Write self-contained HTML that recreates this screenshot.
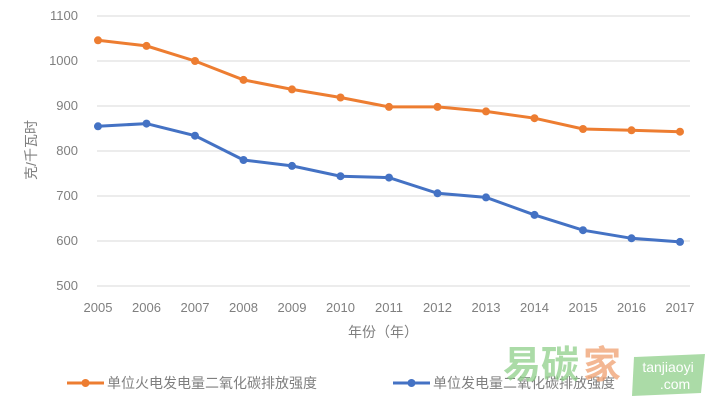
<!DOCTYPE html>
<html><head><meta charset="utf-8"><style>
body{margin:0;background:#fff;width:709px;height:403px;overflow:hidden}
svg{display:block;font-family:"Liberation Sans","Noto Sans CJK SC",sans-serif}
</style></head><body>
<svg width="709" height="403" viewBox="0 0 709 403">
<g stroke="#d9d9d9" stroke-width="1">
<line x1="97" x2="690" y1="16" y2="16"/><line x1="97" x2="690" y1="61" y2="61"/>
<line x1="97" x2="690" y1="106" y2="106"/><line x1="97" x2="690" y1="151" y2="151"/>
<line x1="97" x2="690" y1="196" y2="196"/><line x1="97" x2="690" y1="241" y2="241"/>
<line x1="97" x2="690" y1="286" y2="286"/></g>
<g fill="#7f7f7f" font-size="13" text-anchor="end">
<text x="78" y="20">1100</text><text x="78" y="65">1000</text><text x="78" y="110">900</text>
<text x="78" y="155">800</text><text x="78" y="200">700</text><text x="78" y="245">600</text><text x="78" y="290">500</text></g>
<text transform="translate(36,150) rotate(-90)" fill="#7f7f7f" font-size="14" text-anchor="middle">克/千瓦时</text>
<g fill="#7f7f7f" font-size="13" text-anchor="middle">
<text x="98" y="312">2005</text><text x="146.5" y="312">2006</text><text x="195" y="312">2007</text><text x="243.5" y="312">2008</text><text x="292" y="312">2009</text><text x="340.5" y="312">2010</text><text x="389" y="312">2011</text><text x="437.5" y="312">2012</text><text x="486" y="312">2013</text><text x="534.5" y="312">2014</text><text x="583" y="312">2015</text><text x="631.5" y="312">2016</text><text x="680" y="312">2017</text></g>
<text x="383" y="337" fill="#7f7f7f" font-size="14" text-anchor="middle">年份（年）</text>
<polyline fill="none" stroke="#ed7d31" stroke-width="3" points="98,40.3 146.5,45.9 195,61 243.5,79.9 292,89.4 340.5,97.5 389,106.9 437.5,106.9 486,111.4 534.5,118.2 583,129 631.5,130.3 680,131.7"/>
<g fill="#ed7d31"><circle cx="98" cy="40.3" r="4"/><circle cx="146.5" cy="45.9" r="4"/><circle cx="195" cy="61" r="4"/><circle cx="243.5" cy="79.9" r="4"/><circle cx="292" cy="89.4" r="4"/><circle cx="340.5" cy="97.5" r="4"/><circle cx="389" cy="106.9" r="4"/><circle cx="437.5" cy="106.9" r="4"/><circle cx="486" cy="111.4" r="4"/><circle cx="534.5" cy="118.2" r="4"/><circle cx="583" cy="129" r="4"/><circle cx="631.5" cy="130.3" r="4"/><circle cx="680" cy="131.7" r="4"/></g>
<polyline fill="none" stroke="#4472c4" stroke-width="3" points="98,126.3 146.5,123.6 195,135.7 243.5,160 292,165.9 340.5,176.2 389,177.6 437.5,193.3 486,197.4 534.5,214.9 583,230.2 631.5,238.3 680,241.9"/>
<g fill="#4472c4"><circle cx="98" cy="126.3" r="4"/><circle cx="146.5" cy="123.6" r="4"/><circle cx="195" cy="135.7" r="4"/><circle cx="243.5" cy="160" r="4"/><circle cx="292" cy="165.9" r="4"/><circle cx="340.5" cy="176.2" r="4"/><circle cx="389" cy="177.6" r="4"/><circle cx="437.5" cy="193.3" r="4"/><circle cx="486" cy="197.4" r="4"/><circle cx="534.5" cy="214.9" r="4"/><circle cx="583" cy="230.2" r="4"/><circle cx="631.5" cy="238.3" r="4"/><circle cx="680" cy="241.9" r="4"/></g>
<line x1="67" x2="104" y1="383" y2="383" stroke="#ed7d31" stroke-width="3"/><circle cx="85.5" cy="383" r="4" fill="#ed7d31"/>
<text x="107" y="388" fill="#7f7f7f" font-size="14">单位火电发电量二氧化碳排放强度</text>
<line x1="393" x2="430" y1="383" y2="383" stroke="#4472c4" stroke-width="3"/><circle cx="411.5" cy="383" r="4" fill="#4472c4"/>
<text x="433" y="388" fill="#7f7f7f" font-size="14">单位发电量二氧化碳排放强度</text>
<g opacity="0.75">
<text x="503" y="378" fill="#8fd08a" font-size="38" font-weight="bold">易碳</text>
<text x="583" y="378" fill="#f0a070" font-size="38" font-weight="bold">家</text>
<path d="M634 357 L705 354 L701 393 L632 396 Z" fill="#8fd08a"/>
<text x="668" y="372" fill="#fff" font-size="14" text-anchor="middle">tanjiaoyi</text>
<text x="675" y="389" fill="#fff" font-size="14" text-anchor="middle">.com</text>
</g>
</svg>
</body></html>
